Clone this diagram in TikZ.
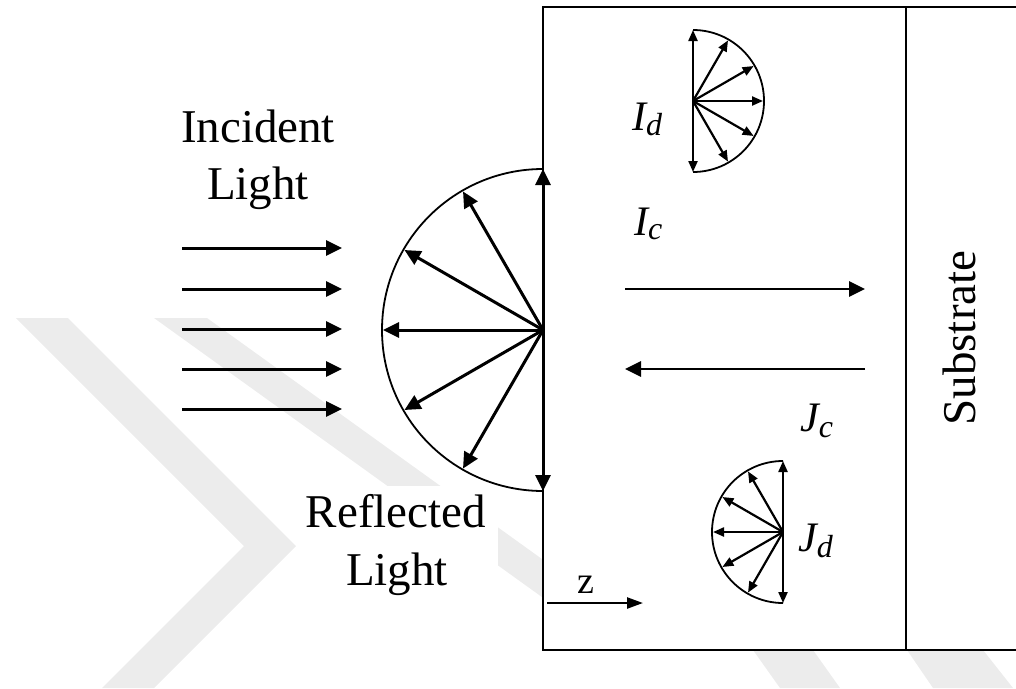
\documentclass[tikz,border=0pt]{standalone}
\usepackage{fontspec}
\setmainfont{Liberation Serif}
\usetikzlibrary{arrows.meta,calc}
\definecolor{wmgray}{RGB}{236,236,236}
\begin{document}
\begin{tikzpicture}[x=1pt,y=-1pt,
  bigtip/.tip={Triangle[length=16pt,width=15pt]},
  smalltip/.tip={Triangle[length=11pt,width=9pt]},
  big/.style={line width=3pt,-bigtip},
  bigboth/.style={line width=3pt,bigtip-bigtip},
  mid/.style={line width=2.7pt,-bigtip},
  small/.style={line width=2.2pt,-smalltip},
  smallboth/.style={line width=2.2pt,smalltip-smalltip},
  rim/.style={line width=1.8pt},
  wall/.style={line width=2pt},
  wm/.style={fill=wmgray,draw=none},
  lbl/.style={inner sep=0pt,anchor=base west,font=\fontsize{42}{42}\selectfont\itshape},
  bigtext/.style={inner sep=0pt,anchor=base,font=\fontsize{47}{47}\selectfont}
]
\useasboundingbox (0,0) rectangle (1016,688);
\clip (0,0) rectangle (1016,688);

% faint watermark
\fill[wm] (16,318) -- (68,318) -- (296,546) -- (154,688) -- (102,688) -- (244,546) -- cycle;
\fill[wm] (154,318) -- (207,318) -- (560,572) -- (560,610) -- cycle;
\fill[wm] (753,650) -- (813,650) -- (840,688) -- (780,688) -- cycle;
\fill[wm] (907,650) -- (983,650) -- (1013,688) -- (933,688) -- cycle;

% film and substrate
\coordinate (filmTL) at (543,7);
\coordinate (filmBR) at (1030,650);
\draw[wall,fill=white] (filmTL) rectangle (filmBR);
\coordinate (subT) at (906,7);
\coordinate (subB) at (906,650);
\draw[wall] (subT) -- (subB);

% incident light
\foreach \yy in {248,289,329,369,409}
  \draw[big] (182,\yy) -- (342,\yy);

% reflected hemisphere
\coordinate (O1) at (543,330);
\draw[rim] (543,491) arc[start angle=90,end angle=270,radius=161];
\foreach \a in {120,150,180,210,240}
  \draw[big] (O1) -- ($(O1)+(\a:160)$);
\coordinate (O1t) at (543,169);
\coordinate (O1b) at (543,491);
\draw[bigboth] (O1t) -- (O1b);

% I_d hemisphere
\coordinate (O2) at (693,101);
\draw[rim] (693,30) arc[start angle=-90,end angle=90,radius=71];
\foreach \a in {-60,-30,0,30,60}
  \draw[small] (O2) -- ($(O2)+(\a:70)$);
\coordinate (O2t) at (693,30);
\coordinate (O2b) at (693,172);
\draw[smallboth] (O2t) -- (O2b);

% J_d hemisphere
\coordinate (O3) at (783,532);
\draw[rim] (783,603) arc[start angle=90,end angle=270,radius=71];
\foreach \a in {120,150,180,210,240}
  \draw[small] (O3) -- ($(O3)+(\a:70)$);
\coordinate (O3t) at (783,461);
\coordinate (O3b) at (783,603);
\draw[smallboth] (O3t) -- (O3b);

% coherent beams
\coordinate (Ica) at (625,289);
\coordinate (Icb) at (865,289);
\draw[mid] (Ica) -- (Icb);
\coordinate (Jca) at (865,369);
\coordinate (Jcb) at (625,369);
\draw[mid] (Jca) -- (Jcb);

% z axis
\coordinate (za) at (547,603);
\coordinate (zb) at (643,603);
\draw[line width=2.4pt,-{Triangle[length=16pt,width=11pt]}] (za) -- (zb);
\node[inner sep=0pt,anchor=base west,font=\fontsize{38}{38}\selectfont] (zl) at (577,593) {z};

% texts
\node[bigtext] (inc1) at (258,142) {Incident};
\node[bigtext] (inc2) at (258,199) {Light};
\fill[white] (300,486) rectangle (498,608);
\node[bigtext] (ref1) at (396,527) {Reflected};
\node[bigtext] (ref2) at (397,585) {Light};
\node[bigtext,rotate=90] (sub) at (975,338) {Substrate};

\node[lbl] (Id) at (632,130) {I\raisebox{-5pt}{\fontsize{32}{32}\selectfont d}};
\node[lbl] (Ic) at (634,235) {I\raisebox{-4pt}{\fontsize{32}{32}\selectfont c}};
\node[lbl] (Jc) at (800,431) {J\raisebox{-6pt}{\fontsize{32}{32}\selectfont c}};
\node[lbl] (Jd) at (798,551) {J\raisebox{-6pt}{\fontsize{32}{32}\selectfont d}};
\end{tikzpicture}
\end{document}
